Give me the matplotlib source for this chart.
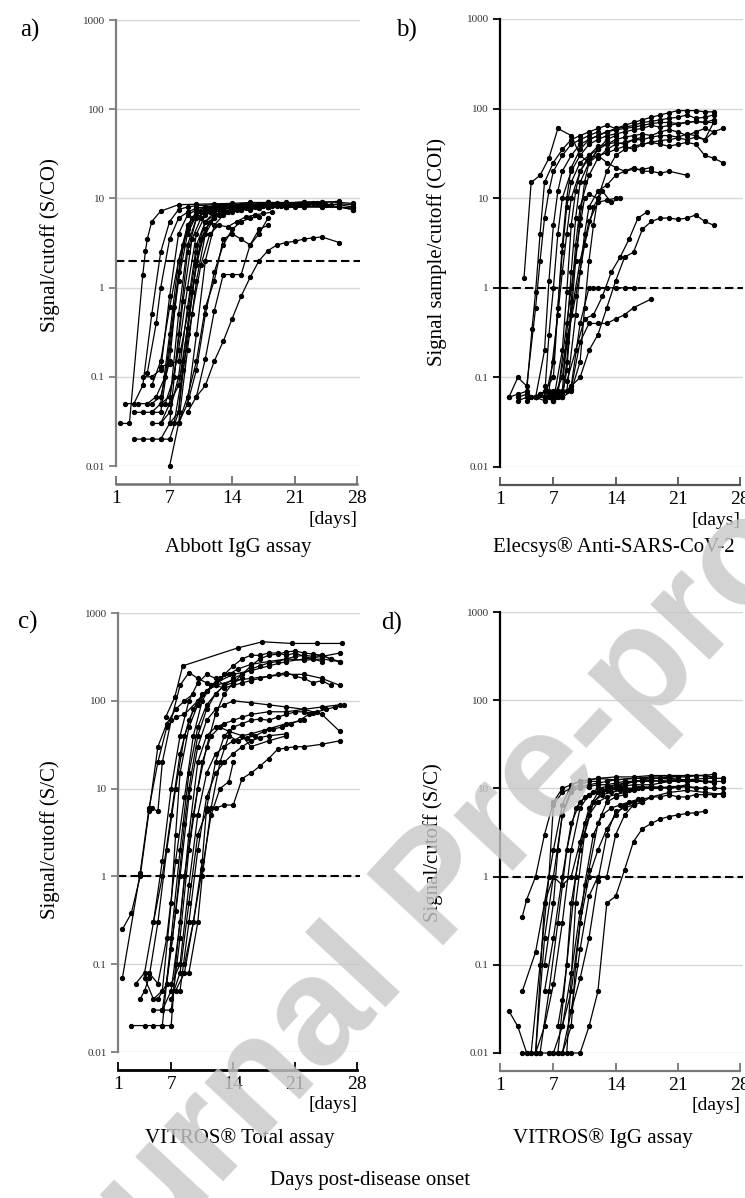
# Antibody kinetics in four assays, log signal vs days since onset

import matplotlib
matplotlib.use("Agg")
import matplotlib.pyplot as plt

plt.rcParams['font.family'] = ['Liberation Serif', 'DejaVu Serif']

x_ticks = [1, 7, 14, 21, 28]
y_ticks = [0.01, 0.1, 1, 10, 100, 1000]
y_tick_labels = ['0.01', '0.1', '1', '10', '100', '1000']

# per-patient series as (day, signal) pairs
abbott = [
    [(1.5, 0.03), (2.5, 0.03), (4, 1.4), (4.3, 2.6), (4.5, 3.5), (5, 5.5), (6, 7.2), (8, 8.5), (10, 8.6), (12, 8.7), (14, 8.8), (16, 9), (18, 9), (20, 9), (22, 9), (24, 9.2), (26, 9), (27.5, 8.8)],
    [(2, 0.05), (3, 0.05), (4, 0.08), (5, 0.5), (6, 2.5), (7, 5.5), (8, 7.5), (9, 8), (10, 8.3), (12, 8.5), (14, 8.6), (16, 8.5), (18, 8.8), (20, 8.7), (22, 8.5), (24, 8.4), (26, 8.5), (27.5, 8)],
    [(3, 0.04), (4, 0.04), (5, 0.04), (6, 0.05), (7, 0.3), (8, 2), (9, 5), (10, 7), (11, 7.5), (12, 8), (14, 8), (16, 7.8), (18, 8), (20, 8), (22, 8.2), (24, 8), (26, 8), (27.5, 7.5)],
    [(3, 0.02), (4, 0.02), (5, 0.02), (6, 0.02), (7, 0.03), (8, 0.3), (9, 2.5), (10, 6), (11, 7), (12, 7.5), (13, 7.8), (14, 7.5)],
    [(4, 0.1), (5, 0.1), (6, 0.12), (7, 0.8), (8, 4), (9, 6.5), (10, 7.5), (12, 8), (14, 8.2), (16, 8.5), (18, 8.6), (20, 8.5), (22, 8.8), (24, 8.6)],
    [(4.5, 0.11), (5.5, 0.4), (6, 1), (7, 3.5), (8, 6), (9, 7), (10, 7.8), (11, 8), (12, 8.2)],
    [(5, 0.03), (6, 0.03), (7, 0.05), (8, 0.5), (9, 3), (10, 6), (11, 7), (12, 7.5), (13, 7.5), (14, 7.8), (15, 8), (16, 8), (17, 7.8), (18, 8), (19, 8.2), (20, 8), (21, 8), (22, 8.3)],
    [(5, 0.05), (6, 0.06), (7, 0.15), (8, 1.5), (9, 5), (10, 7), (11, 8), (12, 8.2), (14, 8.5), (16, 8.8), (18, 9), (20, 8.8), (22, 9.2), (24, 9), (26, 9.3)],
    [(6, 0.03), (7, 0.04), (8, 0.1), (9, 0.6), (10, 3), (11, 5.5), (12, 6.5), (13, 7), (14, 7.5), (15, 7.5), (16, 7.8), (18, 8), (20, 8)],
    [(7, 0.01), (8, 0.03), (9, 0.2), (10, 1.2), (11, 4), (12, 6), (13, 7), (14, 7.5), (15, 7.8), (16, 8)],
    [(6, 0.02), (7, 0.02), (8, 0.04), (9, 0.3), (10, 2), (11, 4.5), (12, 6.5), (13, 7.2), (14, 7.5), (16, 7.8), (18, 8), (20, 8.1), (22, 8), (24, 8.2), (26, 8), (27.5, 7.8)],
    [(6, 0.05), (7, 0.06), (8, 0.2), (9, 1), (10, 4), (11, 6.5), (12, 7.5), (14, 8), (16, 8.3), (18, 8.5)],
    [(7, 0.05), (8, 0.08), (9, 0.35), (10, 1.8), (11, 4.5), (12, 6), (13, 6.8), (14, 7.2)],
    [(8, 0.03), (9, 0.05), (10, 0.3), (11, 2), (12, 5), (13, 6.5), (14, 7), (15, 7.5), (16, 7.5), (17, 7.8), (18, 8)],
    [(8, 0.03), (9, 0.06), (10, 0.15), (11, 0.6), (12, 1.2), (13, 3.5), (14, 4), (15, 3.5), (16, 3), (17, 4.5), (18, 5)],
    [(9, 0.04), (10, 0.06), (11, 0.16), (12, 0.55), (13, 1.4), (14, 1.4), (15, 1.4), (16, 3), (17, 4), (18, 6)],
    [(10, 0.06), (11, 0.08), (12, 0.15), (13, 0.25), (14, 0.45), (15, 0.8), (16, 1.3), (17, 2), (18, 2.6), (19, 3), (20, 3.2), (21, 3.3), (22, 3.5), (23, 3.6), (24, 3.7), (26, 3.2)],
    [(6, 0.13), (7, 0.14), (8, 0.15), (9, 0.5), (10, 2.5), (11, 5.5), (12, 7), (13, 7.5), (14, 8), (15, 8)],
    [(5, 0.08), (6, 0.15), (7, 0.6), (8, 2), (9, 4.5), (10, 6.5), (11, 7.5), (12, 8), (13, 8.2), (14, 8.3), (15, 8.5), (16, 8.5), (17, 8.6), (18, 8.5), (19, 8.8), (20, 8.5), (21, 8.7), (22, 8.5), (23, 8.8), (24, 8.6), (25, 8.5), (26, 8.7), (27.5, 8.5)],
    [(3.5, 0.05), (4.5, 0.05), (5.5, 0.06), (6.5, 0.1), (7.5, 0.6), (8.5, 3), (9.5, 6), (10.5, 7), (11.5, 7.5), (12.5, 8)],
    [(6.5, 0.05), (7.5, 0.1), (8.5, 0.7), (9.5, 3.5), (10.5, 6), (11.5, 7), (12.5, 7.5), (14, 7.8), (16, 8), (18, 8), (20, 8), (22, 8), (24, 8), (26, 8), (27.5, 7.5)],
    [(7, 0.03), (8, 0.04), (8.5, 0.15), (9.5, 0.9), (10.5, 3.5), (11.5, 5.5), (12.5, 6.5), (13.5, 7), (14.5, 7.5), (15.5, 7.8), (16.5, 8), (17.5, 8.2), (18.5, 8.2), (19.5, 8.3), (20.5, 8.5), (21.5, 8.5), (22.5, 8.6), (23.5, 8.8), (24.5, 8.5)],
    [(5, 0.04), (6, 0.04), (7, 0.2), (8, 1.2), (9, 4), (10, 6.5), (11, 7.5), (12, 8)],
    [(9, 0.05), (10, 0.12), (11, 0.5), (12, 1.5), (13, 3), (14, 4.5), (15, 5.5), (16, 6), (17, 6.2)],
    [(7.5, 0.03), (8.5, 0.12), (9.5, 0.5), (10.5, 1.8), (11.5, 4), (12.5, 5), (13.5, 4.8), (14.5, 5.5), (15.5, 6.2), (16.5, 6.5), (17.5, 6.8), (18.5, 7)],
]

elecsys = [
    [(3.7, 1.3), (4.5, 15), (5.5, 18), (6.5, 28), (7.5, 60), (9, 50), (10, 30), (11, 25), (12, 35)],
    [(2, 0.06), (3, 0.065), (4, 0.07), (4.6, 0.35), (5, 0.9), (5.5, 4), (6, 15), (7, 25), (8, 35), (9, 45), (10, 50), (11, 55), (12, 60), (13, 65), (14, 60), (15, 65), (16, 70), (17, 75), (18, 80), (19, 85), (20, 90), (21, 95), (22, 95), (23, 95), (24, 92), (25, 92)],
    [(2, 0.06), (3, 0.1), (4, 0.08), (5, 0.6), (5.5, 2), (6, 6), (6.5, 12), (7, 20), (8, 30), (9, 40), (10, 45), (11, 50), (12, 55)],
    [(3, 0.055), (4, 0.06), (5, 0.06), (6, 0.2), (6.5, 1.2), (7, 5), (7.5, 12), (8, 20), (9, 30), (10, 40), (11, 45), (12, 50), (13, 55), (14, 58), (15, 60), (16, 62), (17, 65), (18, 68), (19, 70), (20, 70), (21, 68), (22, 70), (23, 72), (24, 70), (25, 75)],
    [(4, 0.055), (5, 0.06), (6, 0.055), (7, 0.15), (7.5, 0.6), (8, 2.5), (8.5, 8), (9, 15), (10, 25), (11, 30), (12, 35), (13, 40), (14, 42), (15, 40), (16, 45), (17, 45), (18, 48), (19, 50), (20, 50), (21, 48), (22, 52), (23, 50), (24, 45), (25, 55), (26, 60)],
    [(5, 0.06), (6, 0.06), (7, 0.055), (8, 0.2), (8.5, 0.9), (9, 5), (9.5, 12), (10, 20), (11, 28), (12, 30), (13, 32), (14, 35), (15, 38), (16, 35), (17, 40), (18, 42), (19, 40), (20, 38), (21, 40), (22, 42), (23, 40), (24, 30), (25, 28), (26, 25)],
    [(6, 0.06), (7, 0.065), (8, 0.07), (8.5, 0.3), (9, 1.5), (9.5, 6), (10, 15), (11, 25), (12, 30), (13, 25), (14, 22), (15, 20), (16, 22), (17, 20), (18, 20), (19, 19), (20, 20), (22, 18)],
    [(5.5, 0.065), (6.5, 0.06), (7.5, 0.065), (8.5, 0.4), (9, 1), (10, 5), (10.5, 10), (11, 11), (12, 10)],
    [(6, 0.08), (7, 0.06), (8, 0.1), (9, 0.5), (10, 2), (11, 5.5), (12, 9), (13, 9.5), (14, 10)],
    [(7, 0.07), (8, 0.065), (9, 0.08), (10, 0.4), (11, 1), (11.5, 1), (12, 1), (13, 1), (14, 1), (15, 1), (16, 1)],
    [(8, 0.07), (9, 0.075), (10, 0.25), (11, 0.4), (12, 0.4), (13, 0.4), (14, 0.45), (15, 0.5), (16, 0.6), (18, 0.75)],
    [(9, 0.08), (10, 0.1), (11, 0.2), (12, 0.3), (13, 0.6), (14, 1.2), (15, 2.2), (16, 2.5), (17, 4.5), (18, 5.5), (19, 6), (20, 6), (21, 5.8), (22, 6), (23, 6.5), (24, 5.5), (25, 5)],
    [(8.5, 0.09), (9.5, 0.2), (10.5, 0.45), (11.5, 0.5), (12.5, 0.8), (13.5, 1.5), (14.5, 2.2), (15.5, 3.5), (16.5, 6), (17.5, 7)],
    [(3, 0.06), (4, 0.065), (5, 0.06), (6, 0.06), (6.5, 0.3), (7, 1), (7.5, 4), (8, 10), (9, 20), (10, 30), (11, 40), (12, 45), (13, 50), (14, 52), (15, 55), (16, 58), (17, 60), (18, 65), (19, 62), (20, 65), (21, 68), (22, 70), (23, 72), (24, 70), (25, 70)],
    [(4.5, 0.06), (5.5, 0.065), (6.5, 0.07), (7.5, 0.5), (8, 1.5), (8.5, 4), (9, 10), (10, 20), (11, 30), (12, 38), (13, 40), (14, 45), (15, 48), (16, 50), (17, 52), (18, 50), (19, 55), (20, 58), (21, 55), (22, 50), (23, 55), (24, 60), (25, 55)],
    [(6, 0.06), (7, 0.055), (8, 0.06), (8.5, 0.12), (9, 0.5), (9.5, 2), (10, 6), (10.5, 15), (11, 25), (12, 35), (13, 45), (14, 50)],
    [(7, 0.06), (8, 0.06), (8.5, 0.15), (9, 0.7), (9.5, 3), (10, 8), (11, 18), (12, 28), (13, 35), (14, 40), (15, 42), (16, 45), (17, 48)],
    [(6.5, 0.065), (7.5, 0.07), (8.5, 0.25), (9.5, 0.8), (10.5, 3), (11.5, 8), (12.5, 12), (13.5, 9), (14.5, 10)],
    [(5, 0.06), (6, 0.07), (7, 0.1), (7.5, 0.6), (8, 3), (8.5, 10), (9, 22), (10, 35), (11, 45), (12, 50), (13, 55), (14, 60), (15, 62), (16, 65), (17, 70), (18, 72), (19, 75), (20, 78), (21, 80), (22, 85), (23, 78), (24, 80), (25, 85)],
    [(7.5, 0.06), (8.5, 0.07), (9.5, 0.5), (10, 1.5), (10.5, 4), (11, 8), (12, 12), (13, 14), (14, 18), (15, 20), (16, 21), (17, 21), (18, 22)],
    [(8, 0.06), (9, 0.07), (10, 0.15), (10.5, 0.6), (11, 2), (11.5, 5), (12, 10), (13, 20), (14, 30), (15, 35), (16, 38), (17, 40), (18, 42), (19, 44), (20, 45), (21, 47), (22, 45), (23, 48), (24, 45), (25, 70)],
]

vitros_total = [
    [(1.5, 0.25), (2.5, 0.38), (3.5, 1), (4.5, 5.5), (5.5, 30), (6.5, 55), (7.5, 80), (8.5, 100), (9.5, 120)],
    [(1.5, 0.07), (3.5, 1.1), (4.5, 6), (5.5, 20), (6.5, 50), (7.5, 65), (8.5, 70), (10, 100), (12, 160), (14, 200), (16, 220), (18, 250), (20, 280), (22, 300), (24, 320), (26, 350)],
    [(2.5, 0.02), (4, 0.02), (5, 0.02), (6, 0.02), (7, 0.2), (8, 2), (9, 15), (10, 50), (11, 90), (12, 120), (13, 150), (14, 160), (15, 180)],
    [(3.5, 0.04), (4, 0.05), (4.5, 0.07), (5.5, 0.3), (6.5, 2), (7.5, 10), (8.5, 40), (9.5, 80), (10.5, 120), (12, 150), (14, 170), (16, 180), (18, 190), (20, 200), (22, 200), (24, 180), (26, 150)],
    [(4, 0.07), (5, 0.04), (6, 0.05), (7, 0.5), (7.5, 3), (8, 15), (9, 50), (10, 90), (11, 130), (12, 160), (13, 200), (14, 250), (15, 300), (16, 330), (17, 330), (18, 350), (19, 350), (20, 330), (21, 350), (22, 320), (23, 300), (24, 280)],
    [(4.5, 0.08), (5.5, 0.06), (6.5, 0.2), (7.5, 1.5), (8.5, 8), (9.5, 40), (10.5, 100), (11.5, 150), (12.5, 180), (13.5, 200), (14.5, 230), (16, 260), (18, 280), (20, 300), (22, 290), (24, 300), (26, 280)],
    [(5, 0.03), (6, 0.03), (7, 0.15), (8, 1), (9, 8), (10, 30), (11, 60), (12, 80), (13, 90), (14, 100), (16, 95), (18, 90), (20, 85), (22, 80), (24, 70), (26, 45)],
    [(6, 0.03), (7, 0.05), (8, 0.3), (9, 3), (10, 20), (11, 40), (12, 50), (13, 55), (14, 60), (15, 65), (16, 70), (18, 75), (20, 75), (22, 80), (24, 85), (26, 90)],
    [(6, 0.02), (7, 0.02), (7.5, 0.1), (8.5, 1), (9.5, 5), (10.5, 20), (11.5, 40), (12.5, 50), (13.5, 45), (15, 40), (16, 30), (18, 35), (20, 40)],
    [(7, 0.04), (8, 0.08), (9, 0.5), (10, 3), (11, 5.5), (12, 6), (13, 6.5), (14, 6.5), (15, 13), (16, 15), (17, 18), (18, 22), (19, 28), (20, 29), (21, 30), (22, 30), (24, 32), (26, 35)],
    [(7, 0.06), (8, 0.1), (9, 0.8), (10, 5), (11, 15), (12, 25), (13, 30), (14, 35), (15, 40), (16, 42), (18, 48), (20, 55), (22, 60)],
    [(8, 0.05), (9, 0.3), (10, 2), (11, 8), (12, 15), (13, 20), (14, 25), (15, 30), (16, 35), (17, 38), (18, 40), (20, 42)],
    [(6.4, 66), (7.4, 110), (8.3, 250), (14.5, 400), (17.3, 470), (20.6, 450), (23.4, 450), (26.3, 450)],
    [(4.8, 6), (5.5, 5.5), (6, 20), (7, 60), (8, 150), (9, 210), (10, 180), (11, 160), (12, 150), (13, 140), (14, 150), (15, 160), (16, 170), (17, 180), (18, 190), (19, 200), (20, 210), (21, 190), (22, 180), (23, 160), (24, 170), (25, 150)],
    [(5.5, 0.04), (6.5, 0.06), (7.5, 0.4), (8.5, 4), (9, 10), (10, 40), (11, 80), (12, 120), (13, 150), (14, 180), (15, 200), (16, 230), (17, 250), (18, 270), (19, 280), (20, 300), (21, 320), (22, 330), (23, 320), (24, 330), (25, 300)],
    [(3, 0.06), (4, 0.08), (5, 0.3), (6, 1), (7, 5), (8, 25), (9, 60), (10, 100), (11, 130), (12, 150)],
    [(7.5, 0.05), (8.5, 0.08), (9.5, 0.3), (10.5, 1.5), (11, 6), (12, 20), (13, 40), (14, 50), (15, 55), (16, 60), (17, 62), (18, 60), (19, 65), (20, 70), (21, 75), (22, 75), (23, 72)],
    [(6, 0.03), (7, 0.03), (8, 0.2), (9, 2), (10, 10), (11, 30), (12, 70), (13, 120), (14, 160), (15, 200), (16, 250), (17, 300), (18, 330), (19, 340), (20, 360), (21, 370), (22, 350), (23, 340), (24, 330), (25, 300), (26, 280)],
    [(5, 0.3), (6, 1.5), (7, 10), (8, 40), (9, 100), (10, 160), (11, 200), (12, 180), (13, 150)],
    [(8.5, 0.1), (9.5, 0.3), (10.5, 1.2), (11.5, 5), (12.5, 10), (13.5, 12), (14, 20)],
    [(9, 0.08), (10, 0.3), (10.5, 1), (11.5, 6), (12.5, 20), (13.5, 40), (14.5, 35), (15.5, 38), (16.5, 40), (17.5, 45), (18.5, 48), (19.5, 50), (20.5, 55), (21.5, 60), (22.5, 70), (23.5, 75), (24.5, 80), (25.5, 85), (26.5, 90)],
]

vitros_igg = [
    [(2, 0.03), (3, 0.02), (4, 0.01), (5, 0.01), (6, 0.2), (7, 1), (8, 5), (9, 10), (10, 11), (11, 12), (12, 12)],
    [(3.5, 0.05), (5, 0.14), (6, 0.5), (7, 2), (8, 6.5), (9, 11), (10, 12), (12, 13), (14, 13.5), (16, 13.5), (18, 14), (20, 14), (22, 14), (24, 14), (25, 13)],
    [(3.5, 0.01), (4.5, 0.01), (5.5, 0.01), (6.5, 0.01), (7.5, 0.01), (8.5, 0.01), (9.5, 0.5), (10.5, 3), (11.5, 7), (12.5, 9), (13.5, 10), (14.5, 10.5), (16, 11), (18, 11), (20, 12), (22, 12), (24, 12), (25, 11.5)],
    [(3.5, 0.35), (4, 0.55), (5, 1), (6, 3), (7, 7), (8, 10), (9, 11), (10, 12), (11, 12.5), (12, 13), (14, 12.5), (16, 13), (18, 13), (20, 13), (22, 12.5), (24, 13), (26, 13)],
    [(4.5, 0.01), (5.5, 0.1), (6.5, 1), (7, 6.5), (8, 9), (9, 10), (10, 10), (11, 10.5), (12, 11), (13, 11), (14, 11.5), (15, 12), (16, 12), (17, 12), (18, 12.5), (19, 12), (20, 12), (21, 12.5), (22, 12), (23, 12.5), (24, 12), (25, 12)],
    [(5.5, 0.01), (6.5, 0.05), (7.5, 0.3), (8.5, 2), (9.5, 6), (10.5, 8), (11.5, 9), (12.5, 9.5), (14, 10), (16, 10), (18, 10.5), (20, 10), (22, 10.5), (24, 10), (26, 10)],
    [(6.5, 0.01), (7.5, 0.01), (8.5, 0.1), (9.5, 1), (10.5, 4), (11.5, 7), (12.5, 8.5), (13.5, 9), (14.5, 9.5), (15.5, 9.5), (16.5, 10)],
    [(7, 0.01), (8, 0.01), (9, 0.02), (9.5, 0.1), (10.5, 0.8), (11.5, 3), (12.5, 5), (13.5, 6), (14.5, 6.5), (15.5, 7), (16.5, 7.5)],
    [(9, 0.01), (10, 0.01), (11, 0.02), (12, 0.05), (13, 0.5), (14, 0.6), (15, 1.2), (16, 2.5), (17, 3.5), (18, 4), (19, 4.5), (20, 4.8), (21, 5), (22, 5.2), (23, 5.3), (24, 5.5)],
    [(8, 0.02), (9, 0.05), (10, 0.3), (11, 1), (12, 2), (13, 3.5), (14, 5), (15, 6.5), (16, 7), (17, 7.5), (18, 8), (19, 8), (20, 8.5), (21, 8), (22, 8), (23, 8.5), (24, 8.5), (25, 8.5), (26, 8.8)],
    [(6, 0.05), (7, 0.2), (8, 1), (9, 4), (10, 7), (11, 8.5), (12, 9), (13, 9.5), (14, 10), (15, 10), (16, 10), (17, 10.5), (18, 10), (19, 10.5), (20, 10), (21, 10.5), (22, 10.5), (23, 10), (24, 10), (25, 10)],
    [(7.5, 0.02), (8, 0.04), (8.5, 0.1), (9, 0.5), (10, 2), (11, 5), (12, 7), (13, 8), (14, 8.5), (15, 9), (16, 9.5), (17, 10), (18, 10), (19, 10), (20, 10.5), (21, 10.5), (22, 11)],
    [(4, 0.01), (5, 0.01), (6, 0.5), (7, 1), (8, 0.8), (9, 1), (10, 2.5), (11, 6), (12, 9), (13, 10), (14, 11), (15, 11), (16, 12), (17, 12.5), (18, 13), (19, 13), (20, 13.5), (21, 13.5), (22, 13.5), (23, 14), (24, 14), (25, 13.5)],
    [(8, 0.01), (9, 0.03), (10, 0.15), (11, 0.6), (12, 1), (13, 1), (14, 3), (15, 5), (16, 6.5), (17, 7), (18, 8), (20, 9), (22, 9.5), (24, 9), (26, 8.5)],
    [(5, 0.01), (6, 0.02), (7, 0.06), (8, 0.3), (9, 2), (10, 6), (11, 8.5), (12, 10), (13, 10.5), (14, 11), (15, 11.5), (16, 12), (18, 12), (20, 12.5), (22, 12.5), (24, 12), (26, 12)],
    [(6, 0.1), (7, 0.5), (7.5, 2), (8, 5), (9, 9), (10, 10.5), (11, 11), (12, 11.5), (13, 12), (14, 12.5), (16, 13), (18, 13.5), (20, 13.5), (22, 14), (24, 14), (25, 14.5)],
    [(9, 0.03), (10, 0.07), (11, 0.2), (12, 0.9), (13, 3), (14, 5.5), (15, 6), (16, 6.5), (17, 7)],
    [(7, 0.01), (8, 0.02), (9, 0.08), (10, 0.4), (11, 1.2), (12, 4), (13, 7), (14, 8), (15, 8.5)],
]

W, H = 745, 1198
fig = plt.figure(figsize=(W / 100, H / 100), dpi=100)


def px_axes(left, top, right, bottom):
    return fig.add_axes([left / W, 1 - bottom / H, (right - left) / W, (bottom - top) / H])


def draw_panel(ax, series, cutoff, left_color, bottom_color, bottom_lw):
    ax.set_yscale('log')
    ax.set_ylim(0.01, 1000)
    ax.set_xlim(1, 28.3)
    for yt in y_ticks:
        ax.axhline(yt, color='#d6d6d6', lw=1.0, zorder=0)
    ax.axhline(cutoff, color='black', lw=1.5, ls=(0, (4, 2)), zorder=1)
    for s in series:
        ax.plot([p[0] for p in s], [p[1] for p in s], color='black', lw=0.9,
                marker='o', ms=2.8, zorder=3, clip_on=False)
    ax.set_yticks(y_ticks)
    ax.set_yticklabels(y_tick_labels)
    ax.minorticks_off()
    ax.set_xticks(x_ticks)
    ax.tick_params(axis='y', direction='out', length=5, width=1.3, color=left_color,
                   labelsize=8, labelcolor='#333333', pad=3)
    ax.tick_params(axis='x', direction='in', length=6, width=1.3, color=bottom_color,
                   labelsize=14, pad=4)
    for side in ['top', 'right']:
        ax.spines[side].set_visible(False)
    ax.spines['left'].set_color(left_color)
    ax.spines['left'].set_linewidth(1.6)
    ax.spines['bottom'].set_position(('outward', 13))
    ax.spines['bottom'].set_color(bottom_color)
    ax.spines['bottom'].set_linewidth(bottom_lw)
    ax.spines['bottom'].set_bounds(1, 28)
    ax.patch.set_alpha(0)
    ax.text(28, -0.1, '[days]', transform=ax.get_xaxis_transform(), ha='right',
            va='top', fontsize=14)


ax_a = px_axes(116, 20, 360, 466)
draw_panel(ax_a, abbott, 2.0, '#7f7f7f', '#6f6f6f', 1.8)
ax_b = px_axes(500, 19, 743, 467)
draw_panel(ax_b, elecsys, 1.0, 'black', '#555555', 1.6)
ax_c = px_axes(118, 613, 360, 1052)
draw_panel(ax_c, vitros_total, 1.0, '#7f7f7f', 'black', 2.0)
ax_d = px_axes(500, 612, 743, 1053)
draw_panel(ax_d, vitros_igg, 1.0, 'black', '#777777', 1.6)


def ftext(x, y, s, **kw):
    fig.text(x / W, 1 - y / H, s, **kw)


# panel letters
ftext(30, 30, 'a)', fontsize=18, ha='center', va='center')
ftext(406, 30, 'b)', fontsize=18, ha='center', va='center')
ftext(28, 622, 'c)', fontsize=18, ha='center', va='center')
ftext(392, 623, 'd)', fontsize=18, ha='center', va='center')

# y labels
ftext(50, 245, 'Signal/cutoff (S/CO)', fontsize=15, rotation=90, ha='center', va='center')
ftext(437, 252, 'Signal sample/cutoff (COI)', fontsize=15, rotation=90, ha='center', va='center')
ftext(50, 840, 'Signal/cutoff (S/C)', fontsize=15, rotation=90, ha='center', va='center')
ftext(433, 843, 'Signal/cutoff (S/C)', fontsize=15, rotation=90, ha='center', va='center')

# assay names
ftext(238, 548, 'Abbott IgG assay', fontsize=15, ha='center', va='center')
ftext(493, 547, 'Elecsys® Anti-SARS-CoV-2', fontsize=15, ha='left', va='center')
ftext(240, 1138, 'VITROS® Total assay', fontsize=15, ha='center', va='center')
ftext(603, 1138, 'VITROS® IgG assay', fontsize=15, ha='center', va='center')
ftext(370, 1180, 'Days post-disease onset', fontsize=15, ha='center', va='center')

# journal watermark over everything
ftext(440, 892, 'Journal Pre-proof', fontsize=110, rotation=47, rotation_mode='anchor',
      ha='center', va='center', color='#c8c8c8', alpha=0.82, weight='bold',
      family=['Liberation Sans', 'DejaVu Sans'], zorder=10)

fig.savefig('out.png', dpi=100)
